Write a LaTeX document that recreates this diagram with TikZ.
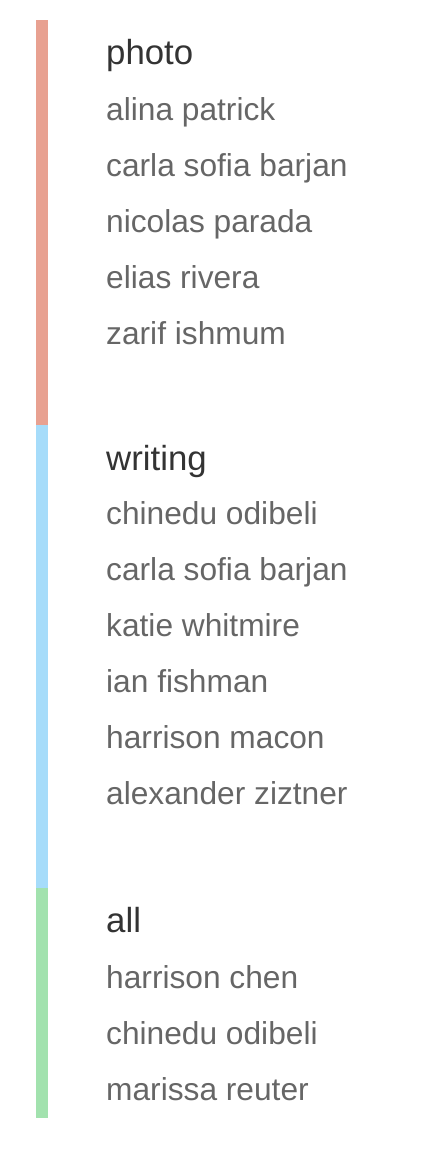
\documentclass[tikz,border=0pt]{standalone}
\usepackage{fontspec}
\setmainfont{Liberation Sans}
\definecolor{photoc}{HTML}{E8A191}
\definecolor{writec}{HTML}{A6DCFA}
\definecolor{allc}{HTML}{A2E2AE}
\definecolor{headc}{HTML}{333333}
\definecolor{itemc}{HTML}{666666}
\tikzset{
  head/.style={anchor=base west, inner sep=0pt, text=headc, font=\fontsize{34.8}{40}\selectfont},
  item/.style={anchor=base west, inner sep=0pt, text=itemc, font=\fontsize{31.7}{38}\selectfont},
  bar/.style={draw=none}
}
\begin{document}
\begin{tikzpicture}[x=1pt,y=-1pt]
\useasboundingbox (0,0) rectangle (444,1164);
\fill[bar, photoc] (36,20) rectangle (48,425);
\fill[bar, writec] (36,425) rectangle (48,888);
\fill[bar, allc] (36,888) rectangle (48,1118);
% photo
\node[head] (h1) at (106,65) {photo};
\node[item] (p1) at (106,120) {alina patrick};
\node[item] (p2) at (106,176) {carla sofia barjan};
\node[item] (p3) at (106,232) {nicolas parada};
\node[item] (p4) at (106,288) {elias rivera};
\node[item] (p5) at (106,344) {zarif ishmum};
% writing
\node[head] (h2) at (106,470) {writing};
\node[item] (w1) at (106,524) {chinedu odibeli};
\node[item] (w2) at (106,580) {carla sofia barjan};
\node[item] (w3) at (106,636) {katie whitmire};
\node[item] (w4) at (106,692) {ian fishman};
\node[item] (w5) at (106,748) {harrison macon};
\node[item] (w6) at (106,804) {alexander ziztner};
% all
\node[head] (h3) at (106,932) {all};
\node[item] (a1) at (106,988) {harrison chen};
\node[item] (a2) at (106,1044) {chinedu odibeli};
\node[item] (a3) at (106,1100) {marissa reuter};
\end{tikzpicture}
\end{document}
